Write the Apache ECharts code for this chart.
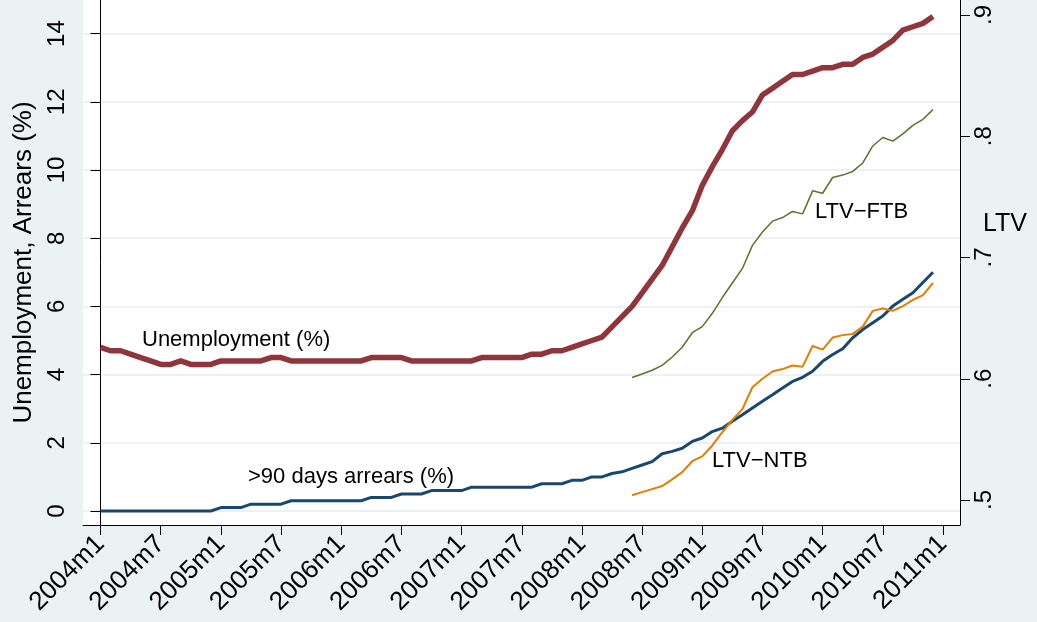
<!DOCTYPE html>
<html><head><meta charset="utf-8">
<script src="https://cdn.jsdelivr.net/npm/echarts@6/dist/echarts.min.js"></script>
<style>html,body{margin:0;padding:0;background:#eaf2f3}#c{width:1037px;height:622px}</style>
</head><body><div id="c"></div>
<script>
// month index 0 = 2004m1
const unemployment = [
  4.8,4.7,4.7,4.6,4.5,4.4,4.3,4.3,4.4,4.3,4.3,4.3,
  4.4,4.4,4.4,4.4,4.4,4.5,4.5,4.4,4.4,4.4,4.4,4.4,
  4.4,4.4,4.4,4.5,4.5,4.5,4.5,4.4,4.4,4.4,4.4,4.4,
  4.4,4.4,4.5,4.5,4.5,4.5,4.5,4.6,4.6,4.7,4.7,4.8,
  4.9,5.0,5.1,5.4,5.7,6.0,6.4,6.8,7.2,7.75,8.3,8.8,
  9.55,10.1,10.6,11.15,11.45,11.7,12.2,12.4,12.6,12.8,12.8,12.9,
  13.0,13.0,13.1,13.1,13.3,13.4,13.6,13.8,14.1,14.2,14.3,14.5
];
const arrears = [
  0,0,0,0,0,0,0,0,0,0,0,0,
  0.1,0.1,0.1,0.2,0.2,0.2,0.2,0.3,0.3,0.3,0.3,0.3,
  0.3,0.3,0.3,0.4,0.4,0.4,0.5,0.5,0.5,0.6,0.6,0.6,
  0.6,0.7,0.7,0.7,0.7,0.7,0.7,0.7,0.8,0.8,0.8,0.9,
  0.9,1.0,1.0,1.1,1.15,1.25,1.35,1.45,1.68,1.75,1.84,2.04,
  2.14,2.33,2.43,2.63,2.82,3.02,3.22,3.41,3.61,3.80,3.92,4.10,
  4.39,4.59,4.76,5.08,5.32,5.52,5.72,6.01,6.21,6.40,6.70,7.00
];
const ltvStartIndex = 53; // 2008m6
const ltvFTB = [
  0.601,0.604,0.607,0.611,0.618,0.626,0.638,0.643,0.654,0.667,
  0.679,0.691,0.710,0.721,0.730,0.733,0.738,0.736,0.755,0.753,
  0.766,0.768,0.771,0.778,0.792,0.799,0.796,0.802,0.809,0.814,0.822
];
const ltvNTB = [
  0.504,0.5065,0.509,0.5115,0.517,0.523,0.532,0.536,0.545,0.556,
  0.566,0.575,0.593,0.600,0.606,0.608,0.611,0.610,0.627,0.624,
  0.634,0.636,0.637,0.643,0.656,0.658,0.656,0.660,0.665,0.669,0.679
];
const xTickValues = [0,6,12,18,24,30,36,42,48,54,60,66,72,78,84];
const xTickLabels = ['2004m1','2004m7','2005m1','2005m7','2006m1','2006m7','2007m1','2007m7',
  '2008m1','2008m7','2009m1','2009m7','2010m1','2010m7','2011m1'];
const yLeftTicks = [0,2,4,6,8,10,12,14];
const yRightTicks = [0.5,0.6,0.7,0.8,0.9];
const yRightLabels = ['.5','.6','.7','.8','.9'];

const FONT = '"Liberation Sans", Arial, sans-serif';
const chart = echarts.init(document.getElementById('c'), null, {renderer:'canvas'});
const pairs = (arr, start) => arr.map((v, i) => [start + i, v]);

chart.setOption({
  backgroundColor: '#eaf2f3',
  animation: false,
  textStyle: {fontFamily: FONT},
  grid: {left: 83, right: 77, top: 0, bottom: 97, show: true, backgroundColor: '#ffffff', borderWidth: 0},
  xAxis: {
    type: 'value', min: -1.745, max: 85.695,
    axisLine: {onZero: false, lineStyle: {color: '#000', width: 1}},
    axisTick: {customValues: xTickValues, length: 10, lineStyle: {color: '#000'}},
    axisLabel: {customValues: xTickValues, rotate: 45, margin: 15, fontSize: 26, color: '#000', fontFamily: FONT,
      formatter: v => xTickLabels[xTickValues.indexOf(Math.round(v))]},
    splitLine: {show: false}
  },
  yAxis: [{
    type: 'value', min: -0.41, max: 14.985, position: 'left',
    name: 'Unemployment, Arrears (%)', nameLocation: 'middle', nameGap: 46,
    nameTextStyle: {fontSize: 26, color: '#000', fontFamily: FONT},
    axisLine: {show: true, lineStyle: {color: '#000', width: 1}},
    axisTick: {show: true, customValues: yLeftTicks, length: 10, lineStyle: {color: '#000'}},
    axisLabel: {customValues: yLeftTicks, rotate: 90, margin: 14, fontSize: 24, color: '#000', fontFamily: FONT},
    splitLine: {show: true, lineStyle: {color: '#e4eef0', width: 1.5}}
  }, {
    type: 'value', min: 0.4794, max: 0.9124, position: 'right',
    axisLine: {show: true, lineStyle: {color: '#000', width: 1}},
    axisTick: {show: true, customValues: yRightTicks, length: 10, lineStyle: {color: '#000'}},
    axisLabel: {customValues: yRightTicks, rotate: 90, margin: 12, fontSize: 24, color: '#000', fontFamily: FONT,
      formatter: v => yRightLabels[yRightTicks.findIndex(t => Math.abs(t - v) < 1e-6)]},
    splitLine: {show: false}
  }],
  graphic: [
    {type: 'text', style: {text: 'Unemployment (%)', x: 142, y: 340, fill: '#000', font: '22px ' + FONT, verticalAlign: 'middle', align: 'left'}},
    {type: 'text', style: {text: '>90 days arrears (%)', x: 248, y: 477, fill: '#000', font: '22px ' + FONT, verticalAlign: 'middle', align: 'left'}},
    {type: 'text', style: {text: 'LTV\u2212FTB', x: 815, y: 212, fill: '#000', font: '22px ' + FONT, verticalAlign: 'middle', align: 'left'}},
    {type: 'text', style: {text: 'LTV\u2212NTB', x: 712, y: 461, fill: '#000', font: '22px ' + FONT, verticalAlign: 'middle', align: 'left'}},
    {type: 'text', style: {text: 'LTV', x: 983, y: 224, fill: '#000', font: '25px ' + FONT, verticalAlign: 'middle', align: 'left'}}
  ],
  series: [
    {name: 'Unemployment (%)', type: 'line', yAxisIndex: 0, data: pairs(unemployment, 0), showSymbol: false, symbol: 'none',
      lineStyle: {color: '#90353b', width: 5.5}, itemStyle: {color: '#90353b'}},
    {name: '>90 days arrears (%)', type: 'line', yAxisIndex: 0, data: pairs(arrears, 0), showSymbol: false, symbol: 'none',
      lineStyle: {color: '#1a476f', width: 3}, itemStyle: {color: '#1a476f'}},
    {name: 'LTV-FTB', type: 'line', yAxisIndex: 1, data: pairs(ltvFTB, ltvStartIndex), showSymbol: false, symbol: 'none',
      lineStyle: {color: '#55752f', width: 1.5}, itemStyle: {color: '#55752f'}},
    {name: 'LTV-NTB', type: 'line', yAxisIndex: 1, data: pairs(ltvNTB, ltvStartIndex), showSymbol: false, symbol: 'none',
      lineStyle: {color: '#e37e00', width: 2}, itemStyle: {color: '#e37e00'}}
  ]
});
</script></body></html>
